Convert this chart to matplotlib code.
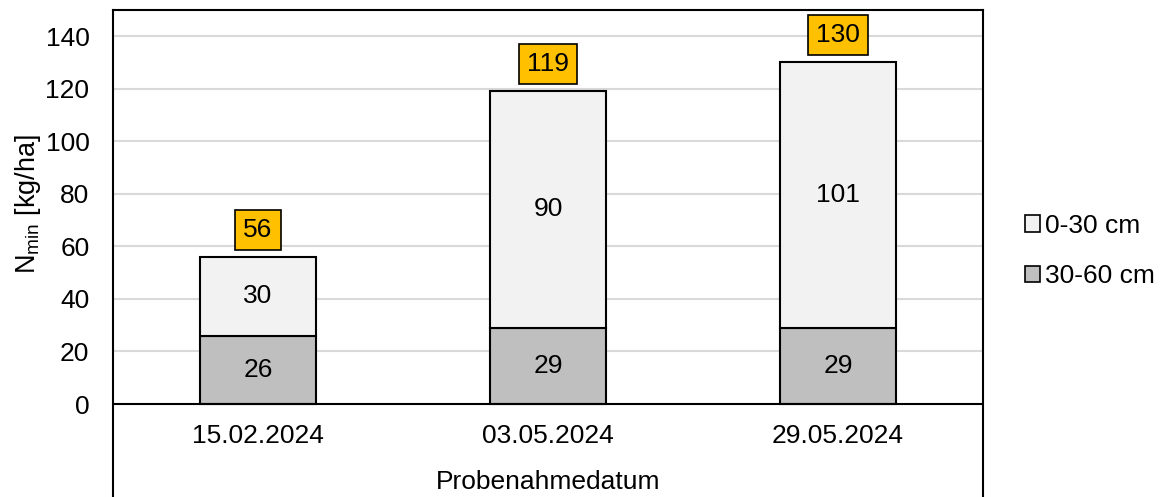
import matplotlib
matplotlib.use("Agg")
import matplotlib.pyplot as plt
from matplotlib.patches import Patch

plt.rcParams['font.family'] = ['Liberation Sans', 'DejaVu Sans']
plt.rcParams['mathtext.fontset'] = 'custom'
plt.rcParams['mathtext.rm'] = 'Liberation Sans'
plt.rcParams['mathtext.default'] = 'regular'

categories = ['15.02.2024', '03.05.2024', '29.05.2024']
deep = [26, 29, 29]        # 30-60 cm
top = [30, 90, 101]        # 0-30 cm
totals = [56, 119, 130]
yticks = [0, 20, 40, 60, 80, 100, 120, 140]
legend_labels = ['0-30 cm', '30-60 cm']

W, H = 1163, 497
fig = plt.figure(figsize=(W / 100, H / 100), dpi=100)
ax = fig.add_axes([113 / W, 0, 870 / W, 1 - 10 / H])

ppu = (404 - 36) / 140.0
ymin = -(H - 404) / ppu
ymax = 140 + (36 - 10) / ppu
ax.set_ylim(ymin, ymax)
ax.set_xlim(-0.5, 2.5)

x = list(range(len(categories)))
c_top = '#F2F2F2'
c_deep = '#BFBFBF'
ax.bar(x, deep, width=0.4, color=c_deep, edgecolor='black', linewidth=1.5, zorder=3)
ax.bar(x, top, bottom=deep, width=0.4, color=c_top, edgecolor='black', linewidth=1.5, zorder=3)

fs = 19
for i in x:
    ax.text(i, deep[i] / 2, str(deep[i]), ha='center', va='center', fontsize=fs, zorder=4)
    ax.text(i, deep[i] + top[i] / 2, str(top[i]), ha='center', va='center', fontsize=fs, zorder=4)
    ax.text(i, totals[i] + 27 / ppu, str(totals[i]), ha='center', va='center', fontsize=fs, zorder=5,
            bbox=dict(boxstyle='square,pad=0.3', facecolor='#FFC000', edgecolor='black', linewidth=1.2))

for t in yticks[1:]:
    ax.axhline(t, color='#D9D9D9', linewidth=1.5, zorder=1)
ax.axhline(0, color='black', linewidth=1.5, zorder=4)

ax.set_yticks(yticks)
ax.set_yticklabels([str(t) for t in yticks], fontsize=fs)
ax.tick_params(axis='y', length=0, pad=17)
ax.set_xticks([])

for s in ['left', 'right', 'top']:
    ax.spines[s].set_linewidth(1.5)
    ax.spines[s].set_color('black')
ax.spines['bottom'].set_visible(False)

for i, c in enumerate(categories):
    ax.text(i, -(436 - 404) / ppu, c, ha='center', va='center', fontsize=fs)
ax.text(1, -(482 - 404) / ppu, 'Probenahmedatum', ha='center', va='center', fontsize=fs)

fig.text(28 / W, 1 - 204 / H, r'N$_{min}$ [kg/ha]', rotation=90, ha='center', va='center', fontsize=19.5)

handles = [Patch(facecolor=c_top, edgecolor='black', linewidth=1.2),
           Patch(facecolor=c_deep, edgecolor='black', linewidth=1.2)]
fig.legend(handles, legend_labels, loc='center left', bbox_to_anchor=(1025 / W, 1 - 251 / H),
           frameon=False, fontsize=fs, handlelength=0.57, handleheight=0.57, handletextpad=0.2,
           labelspacing=1.0, borderaxespad=0, borderpad=0)

fig.savefig('out.png', dpi=100)
